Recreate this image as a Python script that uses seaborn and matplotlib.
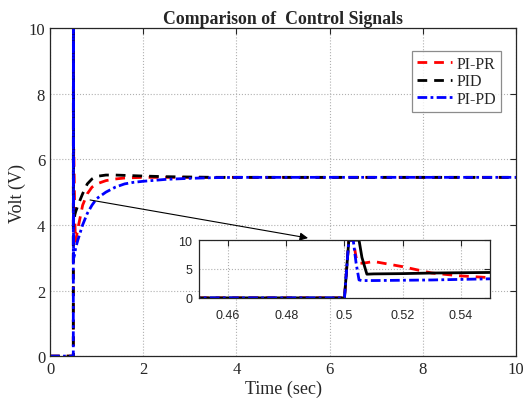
import pandas as pd
import matplotlib.pyplot as plt
import seaborn as sns

# time samples (sec)
time = [0, 0.5, 0.5015, 0.503, 0.504, 0.505, 0.506, 0.5077, 0.51, 0.52, 0.53,
        0.54, 0.55, 0.6, 0.7, 0.8, 0.9, 1.0, 1.2, 1.4, 1.6, 1.8, 2.0, 2.5,
        3.0, 3.5, 4.0, 5.0, 6.0, 8.0, 10.0]

pi_pr = [0, 0, 10, 10, 7.0, 6.0, 6.0, 6.1, 6.3, 5.4, 4.3,
         3.8, 3.5, 3.9, 4.6, 4.95, 5.15, 5.25, 5.35, 5.4, 5.43, 5.44, 5.45, 5.45,
         5.45, 5.45, 5.45, 5.45, 5.45, 5.45, 5.45]

pid = [0, 0, 10, 10, 10, 10, 7.0, 4.1, 4.15, 4.2, 4.3,
       4.35, 4.4, 4.6, 4.95, 5.25, 5.4, 5.48, 5.52, 5.52, 5.51, 5.5, 5.49, 5.47,
       5.46, 5.45, 5.45, 5.45, 5.45, 5.45, 5.45]

pi_pd = [0, 0, 10, 10, 6.0, 3.1, 3.0, 3.0, 3.0, 3.05, 3.1,
         3.2, 3.3, 3.55, 4.0, 4.35, 4.6, 4.8, 5.0, 5.15, 5.25, 5.3, 5.33, 5.39,
         5.42, 5.44, 5.45, 5.45, 5.45, 5.45, 5.45]

labels = ["PI-PR", "PID", "PI-PD"]
series = [pi_pr, pid, pi_pd]


def build_frame() -> pd.DataFrame:
    """Long-form table of all three control signals."""
    frames = [pd.DataFrame({"time": time, "volt": v, "ctrl": name})
              for name, v in zip(labels, series)]
    return pd.concat(frames, ignore_index=True)


def style_axes(ax, size=11):
    ax.grid(True, linestyle=":", color="#b0b0b0", linewidth=0.8)
    ax.tick_params(direction="in", top=True, right=True, labelsize=size,
                   length=4, width=0.8, colors="#262626")
    for sp in ax.spines.values():
        sp.set_visible(True)
        sp.set_color("#262626")
        sp.set_linewidth(0.9)


def main():
    sns.set_theme(style="white")
    plt.rcParams["font.family"] = ["Liberation Serif", "DejaVu Serif"]

    df = build_frame()
    fig = plt.figure(figsize=(5.32, 4.10), dpi=100)
    ax = fig.add_axes([0.094, 0.129, 0.876, 0.8])

    main_styles = {"PI-PR": ("red", (0, (3.5, 2.5)), 2.0),
                   "PID": ("black", (0, (3.5, 2.5)), 2.0),
                   "PI-PD": ("blue", (0, (3.5, 1.2, 1.0, 1.2)), 2.0)}
    for name in labels:
        color, ls, lw = main_styles[name]
        sns.lineplot(data=df[df.ctrl == name], x="time", y="volt", ax=ax,
                     color=color, linestyle=ls, linewidth=lw, label=name,
                     estimator=None, sort=False)

    ax.set_xlim(0, 10)
    ax.set_ylim(0, 10)
    ax.set_xticks([0, 2, 4, 6, 8, 10])
    ax.set_yticks([0, 2, 4, 6, 8, 10])
    style_axes(ax, size=12)
    ax.set_title("Comparison of  Control Signals", fontsize=12.8,
                 fontweight="bold", pad=4)
    ax.set_xlabel("Time (sec)", fontsize=13, labelpad=2)
    ax.set_ylabel("Volt (V)", fontsize=13, labelpad=2)

    leg = ax.legend(loc="upper right", fontsize=11.5, frameon=True,
                    fancybox=False, handlelength=2.2, handletextpad=0.3,
                    borderpad=0.3, labelspacing=0.1,
                    bbox_to_anchor=(0.985, 0.955))
    leg.get_frame().set_edgecolor("#707070")
    leg.get_frame().set_linewidth(0.9)

    # zoomed inset
    ins = fig.add_axes([0.374, 0.271, 0.547, 0.141])
    inset_styles = {"PI-PR": ("red", (0, (3.5, 2.5)), 2.0),
                    "PID": ("black", "-", 2.0),
                    "PI-PD": ("blue", (0, (3.5, 1.2, 1.0, 1.2)), 2.0)}
    for name in labels:
        color, ls, lw = inset_styles[name]
        sns.lineplot(data=df[df.ctrl == name], x="time", y="volt", ax=ins,
                     color=color, linestyle=ls, linewidth=lw, legend=False,
                     estimator=None, sort=False)
    ins.set_xlim(0.45, 0.55)
    ins.set_ylim(0, 10)
    ins.set_xticks([0.46, 0.48, 0.5, 0.52, 0.54])
    ins.set_xticklabels(["0.46", "0.48", "0.5", "0.52", "0.54"])
    ins.set_yticks([0, 5, 10])
    ins.set_xlabel("")
    ins.set_ylabel("")
    style_axes(ins, size=9)
    for lab in ins.get_xticklabels() + ins.get_yticklabels():
        lab.set_family(["Liberation Sans", "DejaVu Sans"])
    ins.tick_params(axis="x", pad=8)
    ins.tick_params(axis="y", pad=5)

    ax.annotate("", xy=(0.579, 0.417), xycoords="figure fraction",
                xytext=(0.86, 4.76), textcoords="data",
                arrowprops=dict(arrowstyle="-|>", color="black", lw=0.8,
                                mutation_scale=12, shrinkA=0, shrinkB=0))

    fig.savefig("out.png", dpi=100)


if __name__ == "__main__":
    main()
